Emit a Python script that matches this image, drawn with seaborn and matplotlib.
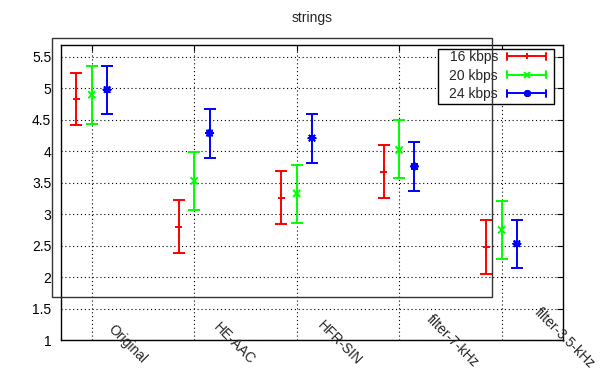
import numpy as np
import pandas as pd
import matplotlib
matplotlib.use("Agg")
import matplotlib.pyplot as plt
import seaborn as sns
from matplotlib.legend_handler import HandlerBase
from matplotlib.lines import Line2D
from matplotlib.patches import Rectangle
from matplotlib.transforms import ScaledTranslation

categories = ["Original", "HE-AAC", "HFR-SIN", "filter-7-kHz", "filter-3.5-kHz"]
series = ["16 kbps", "20 kbps", "24 kbps"]
mean_16 = [4.83, 2.80, 3.26, 3.67, 2.48]
low_16 = [4.42, 2.39, 2.84, 3.25, 2.05]
high_16 = [5.25, 3.23, 3.69, 4.10, 2.90]
mean_20 = [4.90, 3.53, 3.33, 4.02, 2.75]
low_20 = [4.44, 3.07, 2.86, 3.57, 2.28]
high_20 = [5.36, 3.99, 3.79, 4.50, 3.21]
mean_24 = [4.98, 4.29, 4.21, 3.76, 2.53]
low_24 = [4.59, 3.90, 3.82, 3.37, 2.14]
high_24 = [5.36, 4.67, 4.59, 4.14, 2.91]
y_ticks = [1, 1.5, 2, 2.5, 3, 3.5, 4, 4.5, 5, 5.5]
y_tick_labels = ["1", "1.5", "2", "2.5", "3", "3.5", "4", "4.5", "5", "5.5"]
title = "strings"

colors = ["#ff0000", "#00ff00", "#0000ff"]
markers = ["+", "x", (8, 2, 0)]
offsets = [-0.15, 0.0, 0.15]

sns.set_style("white")
plt.rcParams["font.family"] = ["Liberation Sans", "DejaVu Sans"]
plt.rcParams["font.size"] = 10

fig = plt.figure(figsize=(6.03, 3.76), dpi=100)
ax = fig.add_axes([61 / 603, 1 - 340 / 376, (563 - 61) / 603, (340 - 45) / 376])

means = [mean_16, mean_20, mean_24]
lows = [low_16, low_20, low_24]
highs = [high_16, high_20, high_24]

rows = []
for s, m, lo, hi, off in zip(series, means, lows, highs, offsets):
    for i, c in enumerate(categories):
        rows.append({"series": s, "category": c, "x": i + off, "mean": m[i], "low": lo[i], "high": hi[i]})
df = pd.DataFrame(rows)

for s, col in zip(series, colors):
    d = df[df["series"] == s]
    ax.errorbar(d["x"], d["mean"], yerr=[d["mean"] - d["low"], d["high"] - d["mean"]],
                fmt="none", ecolor=col, elinewidth=1.4, capsize=4.5, capthick=1.4, zorder=3)

sns.scatterplot(data=df, x="x", y="mean", hue="series", style="series",
                palette=dict(zip(series, colors)), markers=dict(zip(series, markers)),
                s=26, linewidth=1.4, ax=ax, legend=False, zorder=4)

ax.set_xlim(-0.3, 4.6)
ax.set_ylim(1, 5.69)
ax.set_xticks(range(len(categories)))
ax.set_xticklabels([])
ax.set_yticks(y_ticks)
ax.set_yticklabels(y_tick_labels)
ax.set_xlabel("")
ax.set_ylabel("")
ax.grid(True, color="black", linestyle=(0, (1, 2.5)), linewidth=0.8)
ax.tick_params(direction="in", length=4, width=0.8, top=True, right=True, pad=7,
               labelsize=10, colors="black")
for sp in ax.spines.values():
    sp.set_color("black")
    sp.set_linewidth(1.0)

renderer = fig.canvas.get_renderer()
for i, c in enumerate(categories):
    t = ax.text(i, 0, c, fontsize=10, transform=ax.get_xaxis_transform())
    w = t.get_window_extent(renderer).width  # pixels at dpi 100
    dx = (-6.5 + 0.53 * w) / 100
    dy = (-12.5 + 0.53 * w) / 100
    t.set_transform(ax.get_xaxis_transform() + ScaledTranslation(dx, dy, fig.dpi_scale_trans))
    t.set_rotation(-45)
    t.set_rotation_mode("anchor")
    t.set_ha("left")
    t.set_va("center")
    t.set_clip_on(False)

ax.set_title(title, fontsize=10, pad=16.5)


class ErrHandler(HandlerBase):
    def __init__(self, color, marker):
        super().__init__()
        self.color = color
        self.marker = marker

    def create_artists(self, legend, orig_handle, xdescent, ydescent, width, height, fontsize, trans):
        y = height / 2 - ydescent
        x0 = -xdescent
        x1 = width - xdescent
        c = 2.5
        arts = [
            Line2D([x0, x1], [y, y], color=self.color, lw=1.4),
            Line2D([x0, x0], [y - c, y + c], color=self.color, lw=1.4),
            Line2D([x1, x1], [y - c, y + c], color=self.color, lw=1.4),
            Line2D([(x0 + x1) / 2], [y], color=self.color, marker=self.marker,
                   markersize=5, markeredgewidth=1.4, linestyle=""),
        ]
        for a in arts:
            a.set_transform(trans)
        return arts


# legend frame drawn as a separate white box
frame = Rectangle(((438 - 61) / 502, (340 - 104) / 295), (554 - 438) / 502, (104 - 49) / 295,
                  transform=ax.transAxes, facecolor="white", edgecolor="black",
                  linewidth=1.0, zorder=4.9, clip_on=False)
ax.add_patch(frame)

handles = [Line2D([], [], color=col) for col in colors]
hmap = {h: ErrHandler(col, mk) for h, col, mk in zip(handles, colors, markers)}
leg = ax.legend(handles, series, handler_map=hmap, loc="upper right",
                bbox_to_anchor=((546 - 61) / 502, (340 - 50) / 295), borderaxespad=0,
                markerfirst=False, handlelength=2.8, labelspacing=0.33, borderpad=0,
                handletextpad=0.65, frameon=False, fontsize=10)
leg.set_zorder(5)

rect = Rectangle((52 / 603, 1 - 297 / 376), (492 - 52) / 603, (297 - 38) / 376,
                 transform=fig.transFigure, fill=False, edgecolor="#333333",
                 linewidth=1.0, zorder=10)
fig.patches.append(rect)

fig.savefig("out.png", dpi=100)
